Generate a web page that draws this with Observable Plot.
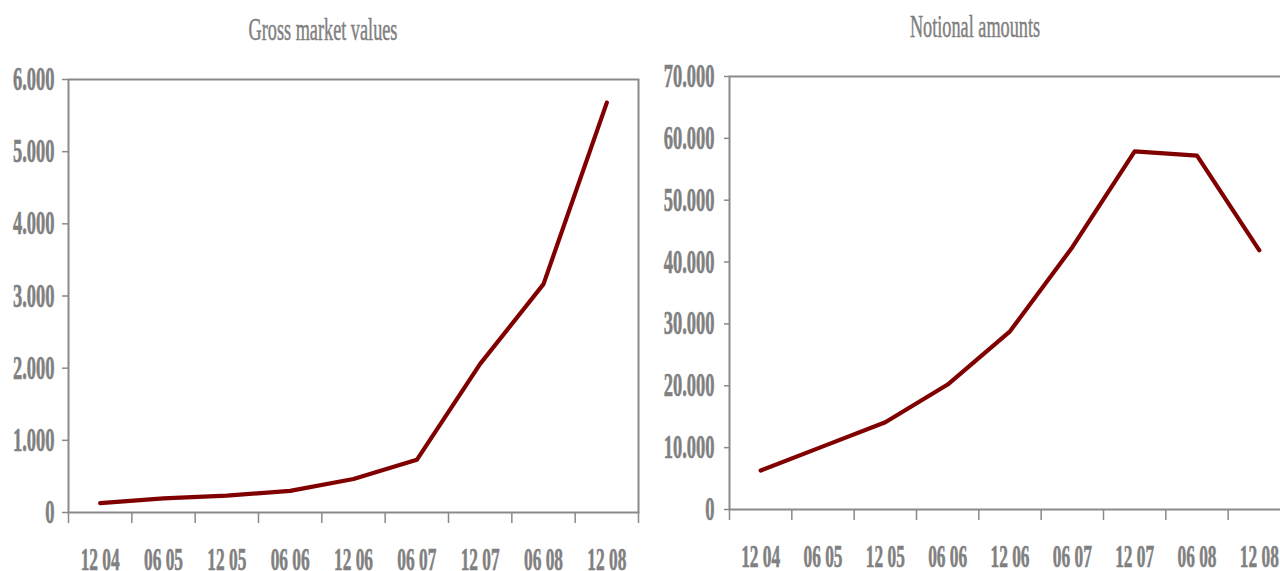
<!DOCTYPE html>
<html>
<head>
<meta charset="utf-8">
<script src="https://cdn.jsdelivr.net/npm/d3@7"></script>
<script src="https://cdn.jsdelivr.net/npm/@observablehq/plot@0.6"></script>
<style>
  html, body { margin: 0; padding: 0; background: #fff; width: 1280px; height: 571px; overflow: hidden; }
  #wrap { position: relative; width: 1280px; height: 571px; }
  .chart { position: absolute; top: 0; }
  .chart text { stroke: currentColor; stroke-width: 0.6px; }
  .title {
    position: absolute; width: 400px; text-align: center;
    font-family: "Liberation Serif", "Times New Roman", serif; font-size: 32px; line-height: 32px;
    color: #808080; transform: scaleX(0.57); transform-origin: center; white-space: nowrap;
    -webkit-text-stroke: 0.5px #808080;
  }
</style>
</head>
<body>
<div id="wrap"></div>
<script>
// ---- data ----
const categories = ["12 04", "06 05", "12 05", "06 06", "12 06", "06 07", "12 07", "06 08", "12 08"];
const grossValues = [130, 195, 235, 300, 465, 730, 2060, 3165, 5680];
const notionalValues = [6300, 10200, 14100, 20200, 28800, 42400, 57900, 57200, 41900];
const grossTicks = [0, 1000, 2000, 3000, 4000, 5000, 6000];
const notionalTicks = [0, 10000, 20000, 30000, 40000, 50000, 60000, 70000];
const titles = ["Gross market values", "Notional amounts"];

const fmt = d => d3.format(",")(d).replace(/,/g, ".");
const lineColor = "#800000";
const axisColor = "#8a8a8a";
const textColor = "#808080";
const n = categories.length;
const centers = categories.map((_, i) => i);
const bounds = categories.map((_, i) => i - 0.5).concat([n - 0.5]);

function compressText(svg, k) {
  svg.querySelectorAll("text").forEach(t => {
    const tr = t.getAttribute("transform");
    if (tr) {
      t.setAttribute("transform", tr + ` scale(${k},1)`);
    } else {
      const x = +(t.getAttribute("x") || 0), y = +(t.getAttribute("y") || 0);
      t.removeAttribute("x"); t.removeAttribute("y");
      t.setAttribute("transform", `translate(${x},${y}) scale(${k},1)`);
    }
  });
}

function makeChart(values, yTicks, opts) {
  const data = categories.map((c, i) => ({i, c, v: values[i]}));
  const svg = Plot.plot({
    width: opts.width,
    height: 571,
    marginLeft: opts.marginLeft,
    marginRight: opts.marginRight,
    marginTop: opts.marginTop,
    marginBottom: opts.marginBottom,
    style: {
      fontFamily: "'Liberation Serif', 'Times New Roman', serif",
      fontSize: "30px",
      fontWeight: "bold",
      color: textColor,
      background: "transparent",
      overflow: "visible"
    },
    x: {domain: [-0.5, n - 0.5]},
    y: {domain: [yTicks[0], yTicks[yTicks.length - 1]]},
    marks: [
      Plot.axisY({ticks: yTicks, tickSize: opts.yTickSize, tickPadding: opts.yTickPadding, tickFormat: fmt, label: null, stroke: axisColor, strokeWidth: 1.5, fontSize: 33}),
      Plot.axisX({ticks: bounds, tickSize: 11, tickFormat: () => "", label: null, stroke: axisColor, strokeWidth: 1.5}),
      Plot.axisX({ticks: centers, tickSize: 0, tickPadding: 35, tickFormat: i => categories[i], label: null, fontSize: 31}),
      Plot.frame({stroke: axisColor, strokeWidth: 2}),
      Plot.line(data, {x: "i", y: "v", stroke: lineColor, strokeWidth: 4.2, strokeLinejoin: "round", strokeLinecap: "round"})
    ]
  });
  compressText(svg, 0.56);
  svg.classList.add("chart");
  svg.style.left = opts.left + "px";
  return svg;
}

const wrap = document.getElementById("wrap");
wrap.appendChild(makeChart(grossValues, grossTicks, {
  left: 0, width: 640, marginLeft: 68, marginRight: 2, marginTop: 79, marginBottom: 59,
  yTickSize: 6, yTickPadding: 8
}));
wrap.appendChild(makeChart(notionalValues, notionalTicks, {
  left: 640, width: 652, marginLeft: 89, marginRight: 2, marginTop: 76, marginBottom: 62,
  yTickSize: 5, yTickPadding: 10
}));

const titleCenters = [323, 975];
const titleTops = [13, 10];
titles.forEach((t, k) => {
  const d = document.createElement("div");
  d.className = "title";
  d.textContent = t;
  d.style.left = (titleCenters[k] - 200) + "px";
  d.style.top = titleTops[k] + "px";
  wrap.appendChild(d);
});
</script>
</body>
</html>
